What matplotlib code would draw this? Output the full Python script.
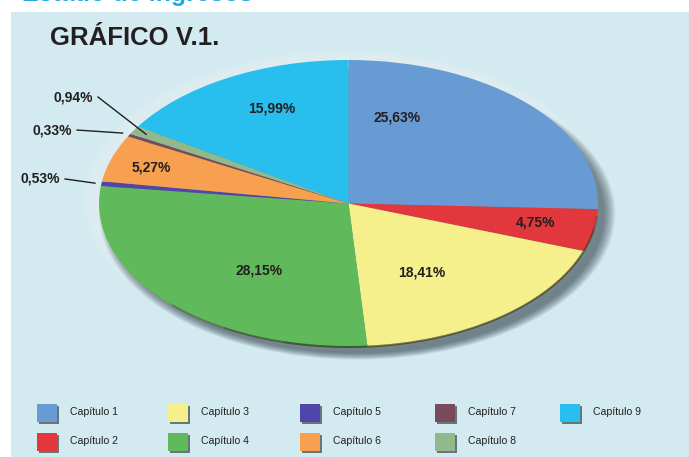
import matplotlib
matplotlib.use('Agg')
import matplotlib.pyplot as plt
from matplotlib.patches import Ellipse, Rectangle, Arc
import numpy as np

# ---- data ----
categories = ['Capítulo 1', 'Capítulo 2', 'Capítulo 3', 'Capítulo 4', 'Capítulo 5',
              'Capítulo 6', 'Capítulo 7', 'Capítulo 8', 'Capítulo 9']
values = [25.63, 4.75, 18.41, 28.15, 0.53, 5.27, 0.33, 0.94, 15.99]
colors = ['#689bd4', '#e2373c', '#f6f08c', '#60ba5c', '#5046aa',
          '#f6a050', '#784a5a', '#91b98c', '#28beee']
title = 'GRÁFICO V.1.'
header = 'Estado de ingresos'

# ---- layout ----
W, H = 689, 457
cx, cy, rx, ry = 348.5, 203.5, 249.5, 143.5
label_shift = [28, 1, -6, 9, None, 1, None, None, -4]
label_r = [0.63, 0.76, 0.56, 0.59, None, 0.83, None, None, 0.73]
outside = {4: ((-1.156, 0.171), 1.026), 6: ((-1.108, 0.512), 1.03), 7: ((-1.024, 0.742), 0.944)}
leg_sq_x = [37, 168, 300, 435, 560]
leg_row_y = [413, 442]

txt_font = ['Liberation Sans', 'DejaVu Sans']

fig = plt.figure(figsize=(W / 100, H / 100), dpi=100)
fig.patch.set_facecolor('white')

bg = fig.add_axes([0, 0, 1, 1])
bg.set_xlim(0, W)
bg.set_ylim(H, 0)
bg.axis('off')
bg.add_patch(Rectangle((11, 12), W - 11, H - 12, facecolor='#d3eaf0', edgecolor='none'))
bg.text(22, 1.0, header, fontsize=18, fontweight='bold', color='#1fa9e1',
        family=txt_font, va='baseline', ha='left')
bg.text(50, 45, title, fontsize=18.5, fontweight='bold', color='#231f20',
        family=txt_font, va='baseline', ha='left')

# legend
for i, (cat, col) in enumerate(zip(categories, colors)):
    c, r = i // 2, i % 2
    x0 = leg_sq_x[c]
    yc = leg_row_y[r]
    bg.add_patch(Rectangle((x0 + 2, yc - 9 + 2), 20, 18, facecolor='#1e2a2a', alpha=0.6,
                           edgecolor='none'))
    bg.add_patch(Rectangle((x0, yc - 9), 20, 18, facecolor=col, edgecolor='none'))
    bg.text(x0 + 33, yc - 1, cat, fontsize=7.6, family=txt_font, color='#231f20',
            va='center', ha='left')

# pie
ax = fig.add_axes([(cx - rx) / W, (H - (cy + ry)) / H, 2 * rx / W, 2 * ry / H])
ax.patch.set_alpha(0)

# light halo
for k in range(8):
    s = 1.0 + 0.05 * (8 - k) / 8
    ax.add_patch(Ellipse((-0.015, 0.02), 2 * s, 2 * s, facecolor='white',
                         alpha=0.05, edgecolor='none', clip_on=False, zorder=0))
# soft shadow
n = 12
for k in range(n):
    s = 1.0 + 0.05 * (n - k) / n
    ax.add_patch(Ellipse((0.035, -0.07), 2 * s * 0.985, 2 * s * 0.97, facecolor='#1c2c34',
                         alpha=0.06, edgecolor='none', clip_on=False, zorder=1))

wedges, _ = ax.pie(values, colors=colors, startangle=90, counterclock=False, radius=1,
                   wedgeprops=dict(linewidth=0))
for w in wedges:
    w.set_zorder(2)
    w.set_clip_on(False)
for k, (t1, t2, a) in enumerate([(225, 355, 0.25), (240, 350, 0.25), (255, 340, 0.2)]):
    ax.add_patch(Arc((0, 0), 2, 2, theta1=t1, theta2=t2, edgecolor='#20200a', linewidth=1.4,
                     alpha=a, zorder=3, clip_on=False))
ax.set_aspect('auto')
ax.set_xlim(-1, 1)
ax.set_ylim(-1, 1)
ax.axis('off')

for i, (w, v) in enumerate(zip(wedges, values)):
    mid = np.deg2rad((w.theta1 + w.theta2) / 2)
    lab = f'{v:.2f}'.replace('.', ',') + '%'
    if label_r[i] is not None:
        a = mid + np.deg2rad(label_shift[i])
        ax.text(label_r[i] * np.cos(a), label_r[i] * np.sin(a), lab, fontsize=10,
                fontweight='bold', family=txt_font, color='#231f20',
                ha='center', va='center', zorder=5)
    else:
        (tx, ty), pr = outside[i]
        ax.text(tx, ty, lab, fontsize=10, fontweight='bold', family=txt_font,
                color='#231f20', ha='right', va='center', zorder=5, clip_on=False)
        ax.plot([tx + 0.02, pr * np.cos(mid)], [ty, pr * np.sin(mid)], color='#231f20',
                linewidth=1.0, zorder=6, clip_on=False)

fig.savefig('out.png', dpi=100, facecolor='white')
